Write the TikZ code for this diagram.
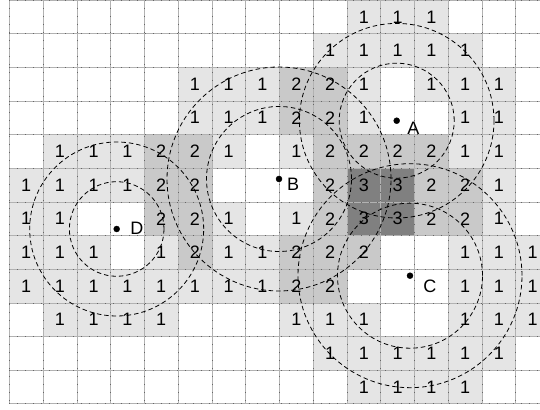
\documentclass[tikz,border=0pt]{standalone}
\usepackage{fontspec}
\setmainfont{Liberation Sans}
\colorlet{cover1}{black!10}
\colorlet{cover2}{black!21}
\colorlet{cover3}{black!50}
\def\coverrows{
  {0,0,0,0,0,0,0,0,0,0,1,1,1,0,0,0},
  {0,0,0,0,0,0,0,0,0,1,1,1,1,1,0,0},
  {0,0,0,0,0,1,1,1,2,2,1,0,1,1,1,0},
  {0,0,0,0,0,1,1,1,2,2,1,0,0,1,1,0},
  {0,1,1,1,2,2,1,0,1,2,2,2,2,1,1,0},
  {1,1,1,1,2,2,0,0,0,2,3,3,2,2,1,0},
  {1,1,0,0,2,2,1,0,1,2,3,3,2,2,1,0},
  {1,1,1,0,1,2,1,1,2,2,2,0,0,1,1,1},
  {1,1,1,1,1,1,1,1,2,2,0,0,0,1,1,1},
  {0,1,1,1,1,0,0,0,1,1,1,0,0,1,1,1},
  {0,0,0,0,0,0,0,0,0,1,1,1,1,1,1,0},
  {0,0,0,0,0,0,0,0,0,0,1,1,1,1,0,0}}
\begin{document}
\begin{tikzpicture}[x=33.76pt, y=-33.65pt, line join=round, font=\fontsize{18}{20}\selectfont,
	gridline/.style={black!30, line width=0.6pt, postaction={draw=black!60, dash pattern=on 0.6pt off 7.4pt}},
	ring/.style={line width=0.8pt, dash pattern=on 4.5pt off 3pt}]
	\useasboundingbox (-0.2755,0) rectangle (15.72,12.184);
	\clip (-0.2755,0) rectangle (15.72,12.184);
	\foreach \row [count=\r from 0] in \coverrows
	\foreach \v [count=\c from 0] in \row
	{\ifnum\v>0 \fill[cover\v] (\c,\r) rectangle ++(1,1);\fi}
	\foreach \i in {0,...,15}
	\draw[gridline] (\i,0) -- (\i,12);
	\foreach \j in {0,...,12}
	\draw[gridline] (0,\j) -- (15.72,\j);
	\foreach \row [count=\r from 0] in \coverrows
	\foreach \v [count=\c from 0] in \row
	{\ifnum\v>0 \node (n-\c-\r) at (\c+0.5,\r+0.5) {\v};\fi}
	\path
	(11.475,3.587) coordinate (A)
	(7.989,5.319) coordinate (B)
	(11.869,8.193) coordinate (C)
	(3.181,6.805) coordinate (D);
	\foreach \p/\ri/\ro in {A/57.5pt/97.3pt,B/72.5pt/112pt,C/72.5pt/112pt,D/47.3pt/87pt}
	\draw[ring] (\p) circle[radius=\ri] (\p) circle[radius=\ro];
	\foreach \p/\dx/\dy in {A/16.8pt/-7.3pt,B/14pt/-5pt,C/20pt/-10.3pt,D/20.3pt/1pt}
	\draw[fill=black] (\p) circle (3pt) node[shift={(\dx,\dy)}] (l\p) {\p};
\end{tikzpicture}
\end{document}
